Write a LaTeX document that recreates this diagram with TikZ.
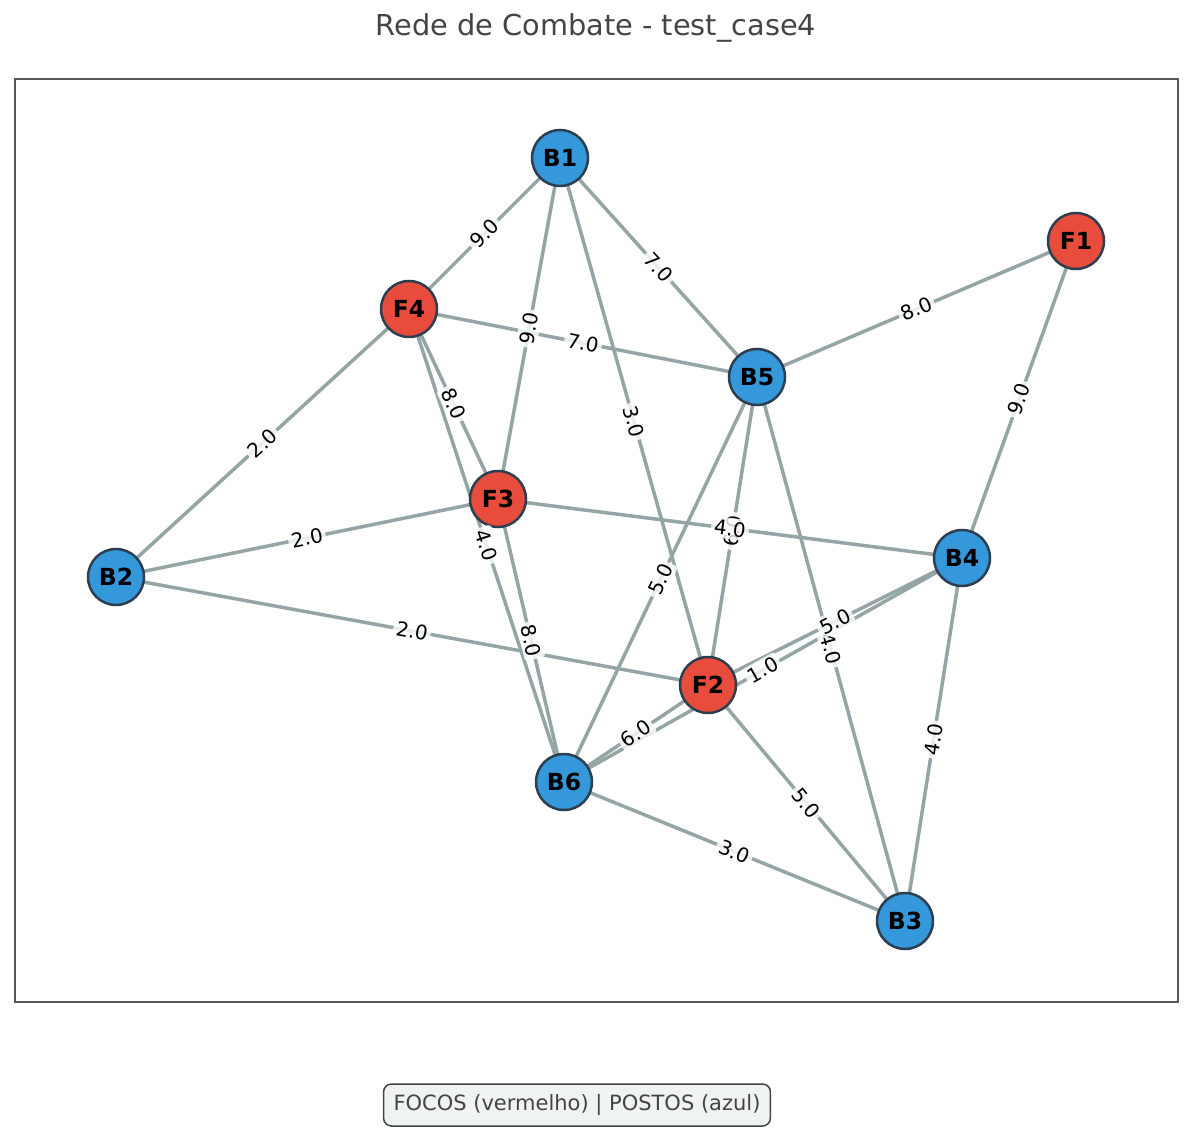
\documentclass[tikz,border=0pt]{standalone}
\usepackage{fontspec}
\setmainfont{DejaVu Sans}
\definecolor{focored}{HTML}{E74C3C}
\definecolor{postoblue}{HTML}{3498DB}
\definecolor{nodeborder}{HTML}{2C3E50}
\definecolor{edgegray}{HTML}{95A5A6}
\definecolor{titlegray}{HTML}{444444}
\definecolor{legendfill}{HTML}{F0F3F4}
\pgfdeclarelayer{edges}
\pgfsetlayers{edges,main}
\begin{document}
\begin{tikzpicture}[x=1pt,y=-1pt]
\tikzset{
  basenode/.style={circle, draw=nodeborder, line width=2.5pt, minimum size=56pt, inner sep=0pt,
    font=\fontsize{23.5}{23.5}\selectfont\bfseries},
  foco/.style={basenode, fill=focored},
  posto/.style={basenode, fill=postoblue},
  edge/.style={draw=edgegray, line width=3.5pt},
  wlabel/.style={midway, sloped, fill=white, fill opacity=0.8, text opacity=1, inner sep=3pt,
    rounded corners=3pt, font=\fontsize{20}{20}\selectfont},
  frame/.style={draw=titlegray!90, line width=1.5pt},
}
\useasboundingbox (0,0) rectangle (1192,1131);
\draw[frame] (15,79) rectangle (1178,1002);
\node[text=titlegray, font=\fontsize{28.8}{30}\selectfont] (title) at (596,28) {Rede de Combate - test\_case4};
\node[draw=titlegray, line width=1.5pt, fill=legendfill, rounded corners=8pt, text=titlegray,
  font=\fontsize{21}{22}\selectfont, minimum height=42pt, inner xsep=10pt] (legend) at (577,1105)
  {FOCOS (vermelho) | POSTOS (azul)};

% nodes
\node[posto] (B1) at (560,158) {B1};
\node[foco]  (F1) at (1076,241) {F1};
\node[foco]  (F4) at (409,309) {F4};
\node[posto] (B5) at (757,377) {B5};
\node[foco]  (F3) at (498,499) {F3};
\node[posto] (B2) at (116,577) {B2};
\node[posto] (B4) at (962,558) {B4};
\node[foco]  (F2) at (708,685) {F2};
\node[posto] (B6) at (564,782) {B6};
\node[posto] (B3) at (905,921) {B3};

% edges (behind nodes)
\begin{pgfonlayer}{edges}
\foreach \a/\b in {B1/F4, B1/B5, B1/F3, B1/F2, F1/B5, F1/B4, F4/B5, F4/F3, F4/B6, F4/B2,
  F3/B2, F3/B4, F3/B6, B2/F2, B5/B6, B5/F2, B5/B3, B4/F2, B4/B6, B4/B3, F2/B6, F2/B3, B6/B3}
  \draw[edge] (\a.center) -- (\b.center);
\end{pgfonlayer}

% edge labels
\path (B1) -- node[wlabel]{9.0} (F4);
\path (B1) -- node[wlabel]{7.0} (B5);
\path (B1) -- node[wlabel]{9.0} (F3);
\path (B1) -- node[wlabel]{3.0} (F2);
\path (F1) -- node[wlabel]{8.0} (B5);
\path (F1) -- node[wlabel]{9.0} (B4);
\path (F4) -- node[wlabel]{7.0} (B5);
\path (F4) -- node[wlabel]{8.0} (F3);
\path (F4) -- node[wlabel]{4.0} (B6);
\path (F4) -- node[wlabel]{2.0} (B2);
\path (F3) -- node[wlabel]{2.0} (B2);
\path (B5) -- node[wlabel]{6.0} (F2);
\path (F3) -- node[wlabel]{4.0} (B4);
\path (F3) -- node[wlabel]{8.0} (B6);
\path (B2) -- node[wlabel]{2.0} (F2);
\path (B5) -- node[wlabel]{5.0} (B6);
\path (B5) -- node[wlabel]{4.0} (B3);
\path (B4) -- node[wlabel]{5.0} (F2);
\path (B4) -- node[wlabel]{1.0} (B6);
\path (B4) -- node[wlabel]{4.0} (B3);
\path (F2) -- node[wlabel]{6.0} (B6);
\path (F2) -- node[wlabel]{5.0} (B3);
\path (B6) -- node[wlabel]{3.0} (B3);
\end{tikzpicture}
\end{document}
